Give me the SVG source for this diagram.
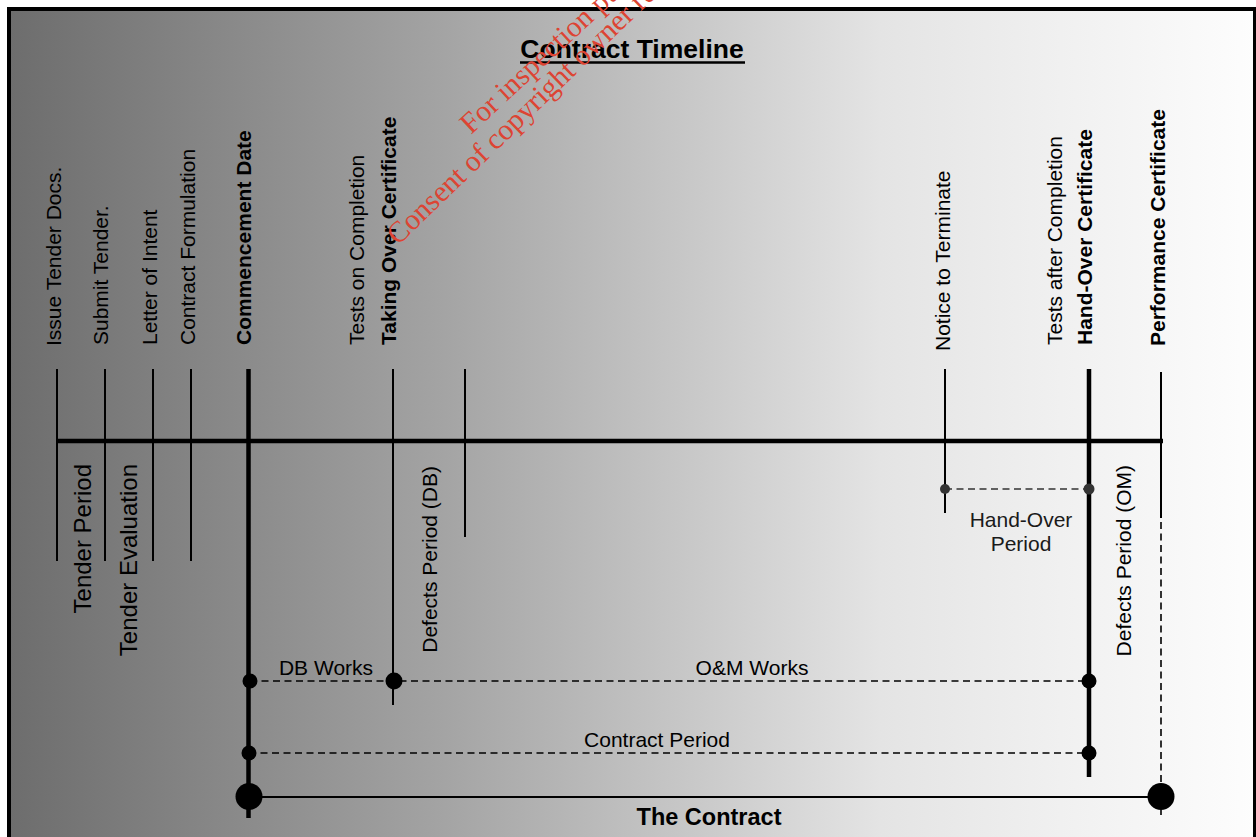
<svg xmlns="http://www.w3.org/2000/svg" width="1256" height="837" viewBox="0 0 1256 837">
<defs>
<linearGradient id="bg" gradientUnits="userSpaceOnUse" x1="9" y1="0" x2="1255" y2="0">
<stop offset="0" stop-color="#6d6d6d"/>
<stop offset="0.35" stop-color="#a4a4a4"/>
<stop offset="0.7" stop-color="#e4e4e4"/>
<stop offset="1" stop-color="#fdfdfd"/>
</linearGradient>
<style>
text{font-family:"Liberation Sans",Arial,sans-serif;fill:#000}
.s{font-size:21px}
.b{font-size:21px;font-weight:bold}
.l{font-size:24px}
.up{text-anchor:start}
.dn{text-anchor:end}
.tick{stroke:#000;stroke-width:2;fill:none}
.thick{stroke:#000;stroke-width:4.5;fill:none}
.dash{stroke:#000;stroke-width:1.6;stroke-dasharray:7 4.5;fill:none}
.wm{font-family:"Liberation Serif","Times New Roman",serif;font-size:29.5px;fill:#dd4433}
</style>
</defs>
<rect x="0" y="0" width="1256" height="837" fill="#fff"/>
<rect id="frame" x="9" y="9" width="1246" height="840" fill="url(#bg)" stroke="#000" stroke-width="4"/>

<g id="title">
<text x="632" y="58" text-anchor="middle" style="font-size:26.5px;font-weight:bold">Contract Timeline</text>
<line x1="520" y1="62.5" x2="745" y2="62.5" stroke="#000" stroke-width="2.5"/>
</g>

<g id="connectors">
<line x1="56" y1="441" x2="1163" y2="441" stroke="#000" stroke-width="4.5"/>
<line class="tick" x1="57" y1="369" x2="57" y2="561"/>
<line class="tick" x1="105" y1="369" x2="105" y2="561"/>
<line class="tick" x1="153" y1="369" x2="153" y2="561"/>
<line class="tick" x1="191" y1="369" x2="191" y2="561"/>
<line class="thick" x1="248.5" y1="369" x2="248.5" y2="818"/>
<line class="tick" x1="393" y1="369" x2="393" y2="705"/>
<line class="tick" x1="465" y1="369" x2="465" y2="537"/>
<line class="tick" x1="945" y1="369" x2="945" y2="513"/>
<line class="thick" x1="1089" y1="369" x2="1089" y2="777"/>
<line class="tick" x1="1161" y1="372" x2="1161" y2="518"/>
<line class="dash" x1="1161" y1="522" x2="1161" y2="815" stroke-dasharray="8 5"/>
<line x1="945" y1="489" x2="1089" y2="489" stroke="#333" stroke-width="1.6" stroke-dasharray="7 4.5"/>
<line class="dash" x1="250" y1="681" x2="1089" y2="681"/>
<line class="dash" x1="249" y1="753" x2="1089" y2="753"/>
<line x1="249" y1="797" x2="1161" y2="797" stroke="#000" stroke-width="2.2"/>
<circle cx="945" cy="489" r="5" fill="#333"/>
<circle cx="1089" cy="489" r="5.5" fill="#333"/>
<circle cx="250" cy="681" r="7.5" fill="#000"/>
<circle cx="394" cy="681" r="8.5" fill="#000"/>
<circle cx="1089" cy="681" r="7.5" fill="#000"/>
<circle cx="249" cy="753" r="7.5" fill="#000"/>
<circle cx="1089" cy="753" r="7.5" fill="#000"/>
<circle cx="249" cy="796.5" r="13.5" fill="#000"/>
<circle cx="1161" cy="796.5" r="13.5" fill="#000"/>
</g>

<g id="n-issue"><text class="s up" transform="translate(61,346) rotate(-90)">Issue Tender Docs.</text></g>
<g id="n-submit"><text class="s up" transform="translate(108,345) rotate(-90)">Submit Tender.</text></g>
<g id="n-letter"><text class="s up" transform="translate(157,345) rotate(-90)">Letter of Intent</text></g>
<g id="n-formulation"><text class="s up" transform="translate(195,345) rotate(-90)">Contract Formulation</text></g>
<g id="n-commencement"><text class="b up" transform="translate(251,345) rotate(-90)">Commencement Date</text></g>
<g id="n-tests"><text class="s up" transform="translate(364,345) rotate(-90)">Tests on Completion</text></g>
<g id="n-taking"><text class="b up" transform="translate(396,345) rotate(-90)">Taking Over Certificate</text></g>
<g id="n-notice"><text class="s up" transform="translate(950,351) rotate(-90)">Notice to Terminate</text></g>
<g id="n-testsafter"><text class="s up" transform="translate(1062,345) rotate(-90)">Tests after Completion</text></g>
<g id="n-handover"><text class="b up" transform="translate(1092,345) rotate(-90)">Hand-Over Certificate</text></g>
<g id="n-performance"><text class="b up" transform="translate(1165,346) rotate(-90)">Performance Certificate</text></g>

<g id="n-tenderperiod"><text class="l dn" transform="translate(91,464) rotate(-90)">Tender Period</text></g>
<g id="n-tendereval"><text class="l dn" transform="translate(137,464) rotate(-90)">Tender Evaluation</text></g>
<g id="n-defectsdb"><text class="s dn" transform="translate(437,466) rotate(-90)">Defects Period (DB)</text></g>
<g id="n-defectsom"><text class="s dn" transform="translate(1131,465) rotate(-90)">Defects Period (OM)</text></g>
<g id="n-handoverperiod"><text class="s" text-anchor="middle" x="1021" y="527" style="fill:#1a1a1a">Hand-Over</text><text class="s" text-anchor="middle" x="1021" y="551" style="fill:#1a1a1a">Period</text></g>
<g id="n-dbworks"><text class="s" x="326" y="675" text-anchor="middle">DB Works</text></g>
<g id="n-omworks"><text class="s" x="752" y="675" text-anchor="middle">O&amp;M Works</text></g>
<g id="n-contractperiod"><text class="s" x="657" y="747" text-anchor="middle">Contract Period</text></g>
<g id="n-contract"><text x="709" y="825" text-anchor="middle" style="font-size:23.5px;font-weight:bold">The Contract</text></g>

<g id="watermark">
<text class="wm" transform="translate(471,135) rotate(-43)">For inspection pu</text>
<text class="wm" transform="translate(398,246) rotate(-44)">Consent of copyright owner requ</text>
</g>
</svg>
